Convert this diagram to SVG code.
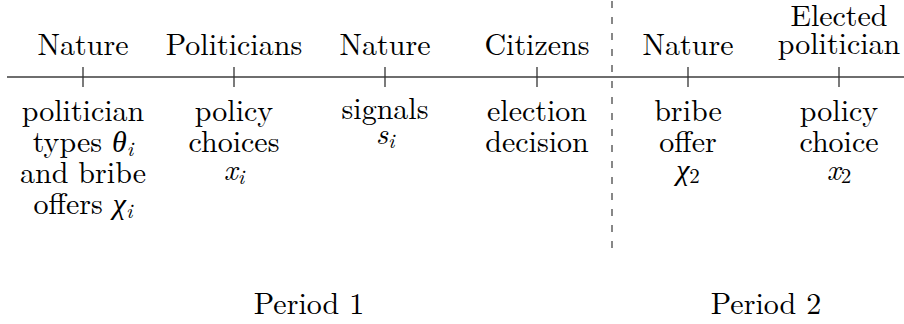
<svg xmlns="http://www.w3.org/2000/svg" width="904" height="324" viewBox="0 0 904 324">
<style>
.m{font-style:italic}
.s{font-size:21px}
.g{font-family:Liberation Serif,serif;font-style:italic}
.axis{stroke:#6e6e6e;stroke-width:2;fill:none}
.tick{stroke:#333;stroke-width:1.3}
.dash{stroke:#555;stroke-width:1.4;stroke-dasharray:7 9}
</style>
<rect width="904" height="324" fill="#fff"/>
<g id="connectors">
<line class="axis" x1="7" y1="77" x2="904" y2="77"/>
<line class="dash" x1="612" y1="1" x2="612" y2="248"/>
</g>
<g font-family="'Latin Modern Roman','Liberation Serif','DejaVu Serif',serif" font-size="30" fill="#000" text-anchor="middle">
<g id="e1">
<line class="tick" x1="83" y1="67" x2="83" y2="87"/>
<text x="83" y="55">Nature</text>
<text x="83" y="121">politician</text>
<text x="83" y="152">types <tspan class="g" font-family="Liberation Serif">θ</tspan><tspan class="m s" dy="4">i</tspan></text>
<text x="83" y="183">and bribe</text>
<text x="83" y="214">offers <tspan class="g" font-family="Liberation Serif">χ</tspan><tspan class="m s" dy="4">i</tspan></text>
</g>
<g id="e2">
<line class="tick" x1="234" y1="67" x2="234" y2="87"/>
<text x="234" y="55">Politicians</text>
<text x="234" y="121">policy</text>
<text x="234" y="152">choices</text>
<text x="234" y="180"><tspan class="m">x</tspan><tspan class="m s" dy="4">i</tspan></text>
</g>
<g id="e3">
<line class="tick" x1="385" y1="67" x2="385" y2="87"/>
<text x="385" y="55">Nature</text>
<text x="385" y="119">signals</text>
<text x="385" y="144"><tspan class="m">s</tspan><tspan class="m s" dy="4">i</tspan></text>
</g>
<g id="e4">
<line class="tick" x1="537" y1="67" x2="537" y2="87"/>
<text x="537" y="55">Citizens</text>
<text x="537" y="121">election</text>
<text x="537" y="152">decision</text>
</g>
<g id="e5">
<line class="tick" x1="688" y1="67" x2="688" y2="87"/>
<text x="688" y="55">Nature</text>
<text x="688" y="121">bribe</text>
<text x="688" y="152">offer</text>
<text x="688" y="180"><tspan class="g" font-family="Liberation Serif">χ</tspan><tspan class="s" dy="3">2</tspan></text>
</g>
<g id="e6">
<line class="tick" x1="839" y1="67" x2="839" y2="87"/>
<text x="839" y="26">Elected</text>
<text x="839" y="54">politician</text>
<text x="839" y="121">policy</text>
<text x="839" y="152">choice</text>
<text x="839" y="180"><tspan class="m">x</tspan><tspan class="s" dy="3">2</tspan></text>
</g>
<g id="periods">
<text x="309" y="314">Period 1</text>
<text x="766" y="314">Period 2</text>
</g>
</g>
</svg>
